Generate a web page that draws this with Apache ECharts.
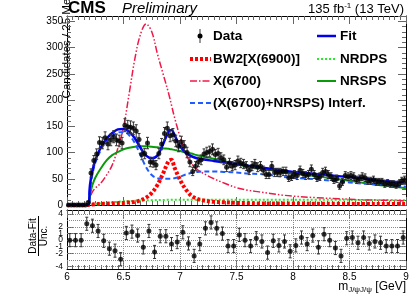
<!DOCTYPE html>
<html><head><meta charset="utf-8">
<script src="https://cdn.jsdelivr.net/npm/echarts@6/dist/echarts.min.js"></script>
<style>html,body{margin:0;padding:0;background:#fff}#c{width:415px;height:298px}</style>
</head><body><div id="c"></div>
<script>
// ---- data ----
const binStart = 6.0, binWidth = 0.025;   // 25 MeV bins
const counts = [0,0,0,0,0,0,0,5,61,85,97,119,118,128,116,124,130,124,122,118,
  152,149,148,146,141,125,96,98,118,82,81,76,98,116,136,146,132,134,122,112,
  120,112,100,82,64,74,82,86,97,100,102,106,96,98,90,86,72,80,74,76,
  84,80,78,74,66,74,78,72,74,66,58,58,74,62,62,62,64,64,52,54,
  58,56,66,60,56,58,68,58,52,54,62,64,58,54,48,50,36,44,56,54,
  56,54,48,50,54,52,46,46,48,44,44,44,40,42,40,40,38,40,46,48];
const pullStart = 6.0, pullWidth = 0.05;  // pull panel bins
const pulls = [0,0,0,2.5,2.2,1.4,-0.1,-1.3,-1.6,-2.9,1.1,1.3,0.7,-1.1,1.4,-1.8,0.6,0.6,-0.6,-0.3,
  1.2,-0.5,-2.4,-0.6,1.8,2.7,1.8,1.0,-0.9,-0.9,0.8,0.0,-0.9,0.3,-0.2,-1.9,-0.1,-0.8,-0.2,-1.7,
  -0.8,0.4,-0.6,0.7,-1.1,0.9,0.0,-1.2,-2.4,0.3,0.4,-0.4,0.4,-0.5,-0.2,-0.4,-0.9,-0.9,-0.9,0.4];
const curveX = [6.0,6.18,6.193,6.2,6.21,6.225,6.25,6.3,6.35,6.4,6.45,6.5,6.55,6.6,6.65,6.7,6.75,6.8,6.85,6.9,
  6.925,6.95,7.0,7.05,7.1,7.15,7.2,7.3,7.4,7.5,7.6,7.7,7.8,7.9,8.0,8.2,8.4,8.6,8.8,9.0];
const fitY = [0,0,0,30,48,65,85,110,126,137,144,145,140,127,109,94,89,94,116,140,
  143,134,112,100,93,89,87,84,81,78,75,72,69,66,63,59,55,51,46,42];
const interfY = [0,0,0,22,40,58,80,105,121,131,138,139,133,118,95,72,57,51,50,50,
  50,51,54,58,61,63,64,64,63,62,60,59,57,54,52,49,45,41,38,35];
const nrspsY = [0,0,0,12,25,38,52,70,85,95,101,106,109,111,112,112,111,110,108,107,
  106,105,103,100,98,95,93,88,83,78,73,70,67,63,60,55,49,43,37,32];
const nrdpsY = [0,0,0,0.5,1,1.5,2,3,4,5,6,7,7.5,8,8.5,9,9,9.5,9.5,10,
  10,10,10,10,10,10,10,10,10,10,10,10,10,10,10,10,10,9.5,9.5,9];
const bwY = [0,0,0,1,1,1,1.5,2,2.5,3,3.5,4,5,6,9,14,23,38,60,84,
  86,72,48,30,18,12,9,6,5,4,3.5,3,3,3,3,2.5,2.5,2,2,2];
const x6700Y = [0,0,0,12,18,25,32,42,57,76,108,148,212,278,325,345,330,288,250,212,
  190,168,130,98,79,68,61,50,41,33,28,25,22,19,17,14,12,10,9,8];
const xTicks = [6,6.5,7,7.5,8,8.5,9];
const yTicksTop = [0,50,100,150,200,250,300,350];
const yTicksPull = [-4,-3,-2,-1,0,1,2,3,4];

// ---- build ----
const dataPts = counts.map((c,i)=>[binStart+binWidth*(i+0.5), c]);
const dataErr = counts.map((c,i)=>[binStart+binWidth*(i+0.5), c-Math.sqrt(c), c+Math.sqrt(c)]).filter(d=>d[2]>d[1]);
const pullPts = pulls.map((p,i)=>[pullStart+pullWidth*(i+0.5), p]);
const pullErr = pulls.map((p,i)=>[pullStart+pullWidth*(i+0.5), p-1, p+1]);
const pair = ys => curveX.map((x,i)=>[x, ys[i]]);

function errRender(params, api){
  const x = api.value(0), lo = api.value(1), hi = api.value(2);
  const a = api.coord([x, lo]), b = api.coord([x, hi]);
  const st = {stroke:'#333', lineWidth:1};
  return {type:'group', children:[
    {type:'line', shape:{x1:a[0],y1:a[1],x2:b[0],y2:b[1]}, style:st},
    {type:'line', shape:{x1:a[0]-1.5,y1:a[1],x2:a[0]+1.5,y2:a[1]}, style:st},
    {type:'line', shape:{x1:b[0]-1.5,y1:b[1],x2:b[0]+1.5,y2:b[1]}, style:st}
  ]};
}

const FONT = 'Liberation Sans, Arial, Helvetica, sans-serif';
const tickCol = '#666';

function xAx(grid, pos, labels){
  return {type:'value', gridIndex:grid, position:pos, min:6, max:9, interval:0.5,
    axisLine:{show:true, onZero:false, lineStyle:{color:'#000', width:1}},
    axisTick:{show:true, inside:true, length:8, lineStyle:{color:tickCol, width:1}},
    minorTick:{show:true, splitNumber:10, length:4, lineStyle:{color:tickCol, width:1}},
    splitLine:{show:false},
    axisLabel:{show:labels, fontSize:10, color:'#000', fontFamily:FONT, margin:3}};
}
function yTop(pos, labels){
  const ax = {type:'value', gridIndex:0, position:pos, min:0, max:360, interval:50,
    axisLine:{show:true, onZero:false, lineStyle:{color:'#000', width:1}},
    axisTick:{show:true, inside:true, length:8, lineStyle:{color:tickCol, width:1}},
    minorTick:{show:true, splitNumber:5, length:4, lineStyle:{color:tickCol, width:1}},
    splitLine:{show:false},
    axisLabel:{show:labels, fontSize:10, color:'#000', fontFamily:FONT, margin:4,
      customValues:yTicksTop, hideOverlap:false, showMinLabel:true, showMaxLabel:true}};
  if (labels) {
    ax.name = 'Candidates / 25 MeV';
    ax.nameLocation = 'end';
    ax.nameRotate = 90;
    ax.nameGap = 25;
    ax.nameMoveOverlap = false;
    ax.nameTextStyle = {fontSize:11.5, fontFamily:FONT, color:'#000', align:'right', verticalAlign:'middle', padding:0};
  }
  return ax;
}
function yPull(pos, labels){
  return {type:'value', gridIndex:1, position:pos, min:-4.4, max:4.6,
    axisLine:{show:true, onZero:false, lineStyle:{color:'#000', width:1}},
    axisTick:{show:true, inside:true, length:6, customValues:yTicksPull, lineStyle:{color:tickCol, width:1}},
    splitLine:{show:false},
    axisLabel:{show:labels, fontSize:8.5, color:'#000', fontFamily:FONT, margin:4, customValues:yTicksPull, hideOverlap:false,
      showMinLabel:true, showMaxLabel:true}};
}

function curve(name, ys, color, width, dash){
  return {type:'line', name, data:pair(ys), xAxisIndex:0, yAxisIndex:0, showSymbol:false, symbol:'none',
    smooth:0.35, clip:true, lineStyle:{color, width, type: dash || 'solid'}, z:3};
}

const L = (x1,y1,x2,y2,stroke,lw,dash)=>({type:'line', shape:{x1,y1,x2,y2}, style:{stroke, lineWidth:lw, lineDash:dash||null}, z:10});
const T = (x,y,text,size,opts)=>({type:'text', x, y, z:10, style:Object.assign({text, fontSize:size, fontFamily:FONT, fill:'#000', textVerticalAlign:'middle'}, opts||{})});

const colFit='#0000ee', colInt='#1f5bff', colSPS='#0a9a0a', colDPS='#22ee22', colBW='#ff0000', colX='#f01848';

const ptitle1 = T(33, 236, 'Data-Fit', 10, {textAlign:'center'}); ptitle1.rotation = Math.PI/2;
const ptitle2 = T(44, 236, 'Unc.', 10, {textAlign:'center'}); ptitle2.rotation = Math.PI/2;

const graphics = [
    T(68, 8, 'CMS', 17, {fontWeight:'bold'}),
    T(122, 9, 'Preliminary', 15, {fontStyle:'italic'}),
    {type:'text', x:404, y:9, z:10, style:{text:'{a|135 fb}{s|-1}{a| (13 TeV)}', textAlign:'right', textVerticalAlign:'middle',
      rich:{a:{fontSize:13, fontFamily:FONT, fill:'#000'}, s:{fontSize:8, fontFamily:FONT, fill:'#000', verticalAlign:'top', padding:[0,0,6,0]}}}},
    ptitle1, ptitle2,
    L(38.5, 216, 38.5, 256, '#000', 1),
    {type:'text', x:406, y:287, z:10, style:{text:'{m|m}{s|J/ψJ/ψ}{m| [GeV]}', textAlign:'right', textVerticalAlign:'middle',
      rich:{m:{fontSize:12, fontFamily:FONT, fill:'#000'}, s:{fontSize:8, fontFamily:FONT, fill:'#000', verticalAlign:'bottom', padding:[6,0,0,0]}}}},
    // legend
    L(200,29,200,43,'#333',1), {type:'circle', shape:{cx:200, cy:36, r:2.5}, style:{fill:'#000'}, z:10},
    T(213, 36, 'Data', 13.5, {fontWeight:'bold'}),
    L(190,59,211,59,colBW,4,[3,2]), T(213, 59, 'BW2[X(6900)]', 13.5, {fontWeight:'bold'}),
    L(190,81,211,81,colX,1.5,[7,2,1.5,2]), T(213, 81, 'X(6700)', 13.5, {fontWeight:'bold'}),
    L(190,103,211,103,colInt,2,[5,3]), T(213, 103, '(X(6700)+NRSPS) Interf.', 13.5, {fontWeight:'bold'}),
    L(317,36,336,36,colFit,2.5), T(340, 36, 'Fit', 13.5, {fontWeight:'bold'}),
    L(317,59,336,59,colDPS,2,[2,2]), T(340, 59, 'NRDPS', 13.5, {fontWeight:'bold'}),
    L(317,81,336,81,colSPS,2), T(340, 81, 'NRSPS', 13.5, {fontWeight:'bold'})
];

const option = {
  animation:false,
  grid:[{left:67, top:16, width:339, height:189, outerBoundsMode:'none', containLabel:false},
        {left:67, top:210, width:339, height:59, outerBoundsMode:'none', containLabel:false}],
  xAxis:[xAx(0,'bottom',false), xAx(0,'top',false), xAx(1,'bottom',true), xAx(1,'top',false)],
  yAxis:[yTop('left', true), yTop('right', false), yPull('left',true), yPull('right',false)],
  series:[
    curve('NRDPS', nrdpsY, colDPS, 2, [2,2]),
    curve('BW2[X(6900)]', bwY, colBW, 4, [3,2]),
    curve('X(6700)', x6700Y, colX, 1.5, [7,2,1.5,2,1.5,2]),
    curve('NRSPS', nrspsY, colSPS, 2),
    curve('(X(6700)+NRSPS) Interf.', interfY, colInt, 2, [5,3]),
    curve('Fit', fitY, colFit, 2.5),
    {type:'custom', renderItem:errRender, data:dataErr, xAxisIndex:0, yAxisIndex:0, z:5, encode:{x:0, y:[1,2]}},
    {type:'scatter', name:'Data', data:dataPts, xAxisIndex:0, yAxisIndex:0, symbol:'circle', symbolSize:5,
      itemStyle:{color:'#000'}, z:6},
    {type:'custom', renderItem:errRender, data:pullErr, xAxisIndex:2, yAxisIndex:2, z:5, encode:{x:0, y:[1,2]}},
    {type:'scatter', name:'pull', data:pullPts, xAxisIndex:2, yAxisIndex:2, symbol:'circle', symbolSize:5,
      itemStyle:{color:'#000'}, z:6,
      markLine:{silent:true, symbol:'none', label:{show:false}, animation:false,
        lineStyle:{type:'dotted', color:'#888', width:1},
        data: yTicksPull.map(v=>({yAxis:v})).concat(xTicks.slice(1,-1).map(v=>({xAxis:v})))}}
  ],
  graphic: graphics
};
const chart = echarts.init(document.getElementById('c'), null, {renderer:'canvas'});
chart.setOption(option);
</script></body></html>
